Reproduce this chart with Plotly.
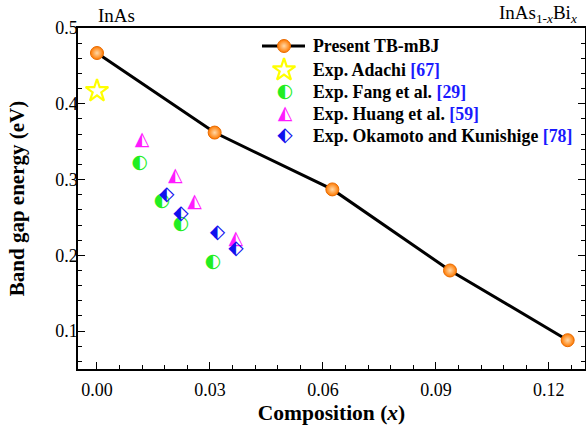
import plotly.graph_objects as go

# ---- data ----
tb_x = [0.0, 0.03125, 0.0625, 0.09375, 0.125]
tb_y = [0.467, 0.362, 0.287, 0.180, 0.088]

adachi_x = [0.0]
adachi_y = [0.417]

fang_x = [0.0114, 0.0173, 0.0223, 0.0308]
fang_y = [0.322, 0.271, 0.241, 0.191]

huang_x = [0.0120, 0.0208, 0.0259, 0.0369]
huang_y = [0.352, 0.304, 0.270, 0.221]

oka_x = [0.0185, 0.0223, 0.0320, 0.0369]
oka_y = [0.279, 0.255, 0.230, 0.209]

x_ticks = [0.00, 0.03, 0.06, 0.09, 0.12]
x_ticklabels = ["0.00", "0.03", "0.06", "0.09", "0.12"]
y_ticks = [0.1, 0.2, 0.3, 0.4, 0.5]
y_ticklabels = ["0.1", "0.2", "0.3", "0.4", "0.5"]

REF = "#1a1aff"
legend_labels = [
    "Present TB-mBJ",
    f"Exp. Adachi <span style='color:{REF}'>[67]</span>",
    f"Exp. Fang et al. <span style='color:{REF}'>[29]</span>",
    f"Exp. Huang et al. <span style='color:{REF}'>[59]</span>",
    f"Exp. Okamoto and Kunishige <span style='color:{REF}'>[78]</span>",
]

SERIF = "Liberation Serif"
GLYPH_FONT = "DejaVu Sans"
GREEN = "#22ee22"
MAGENTA = "#ff1aff"
BLUE = "#1010ee"
ORANGE_MARKER = dict(size=13, color="#ff7a00", line=dict(color="#e86a00", width=1),
                     gradient=dict(type="radial", color="#ffd8a8"))
STAR_MARKER = dict(symbol="star-open", size=17, color="#ffff00", line=dict(width=2.2, color="#ffff00"))

W, H = 586, 426
ML, MR, MT, MB = 78, 1, 28, 57

# legend key geometry (page pixels)
LEG_ROWS = [46, 70, 92, 114, 136]
LEG_KEY_X = 284
LEG_LINE = (262, 305)
LEG_TEXT_X = 311
LEG_FS = 17.8

fig = go.Figure()

# ---- data traces ----
fig.add_trace(go.Scatter(x=tb_x, y=tb_y, mode="lines+markers",
                         line=dict(color="black", width=3), marker=ORANGE_MARKER))
fig.add_trace(go.Scatter(x=adachi_x, y=adachi_y, mode="markers", marker=STAR_MARKER))

half_series = [
    (fang_x, fang_y, GREEN, "\u25D0", 19),
    (huang_x, huang_y, MAGENTA, "\u25ED", 19),
    (oka_x, oka_y, BLUE, "\u2B16", 20),
]
for xs, ys, col, glyph, fs in half_series:
    fig.add_trace(go.Scatter(
        x=xs, y=ys, mode="text", text=[glyph] * len(xs),
        textfont=dict(family=GLYPH_FONT, size=fs, color=col),
        textposition="middle center", hoverinfo="skip",
    ))

# ---- legend keys, drawn on a pixel-space overlay axis ----
fig.add_trace(go.Scatter(x=list(LEG_LINE), y=[LEG_ROWS[0]] * 2, mode="lines",
                         line=dict(color="black", width=3), xaxis="x2", yaxis="y2", hoverinfo="skip"))
fig.add_trace(go.Scatter(x=[LEG_KEY_X], y=[LEG_ROWS[0]], mode="markers", marker=ORANGE_MARKER,
                         xaxis="x2", yaxis="y2", hoverinfo="skip"))
fig.add_trace(go.Scatter(x=[LEG_KEY_X], y=[LEG_ROWS[1]], mode="markers", marker=STAR_MARKER,
                         xaxis="x2", yaxis="y2", hoverinfo="skip"))
for i, (_, _, col, glyph, fs) in enumerate(half_series):
    fig.add_trace(go.Scatter(x=[LEG_KEY_X + 1], y=[LEG_ROWS[i + 2]], mode="text", text=[glyph],
                             textfont=dict(family=GLYPH_FONT, size=fs, color=col),
                             textposition="middle center", xaxis="x2", yaxis="y2", hoverinfo="skip"))

legend_annots = []
for label, ry in zip(legend_labels, LEG_ROWS):
    legend_annots.append(dict(text=f"<b>{label}</b>", xref="x2", yref="y2", x=LEG_TEXT_X, y=ry,
                              xanchor="left", yanchor="middle", showarrow=False,
                              font=dict(family=SERIF, size=LEG_FS, color="black")))

fig.update_layout(
    template="none",
    width=W, height=H,
    margin=dict(l=ML, r=MR, t=MT, b=MB),
    paper_bgcolor="white", plot_bgcolor="white",
    font=dict(family=SERIF, size=18, color="black"),
    showlegend=False,
    xaxis=dict(range=[-0.00504, 0.1296], tickmode="array", tickvals=x_ticks, ticktext=x_ticklabels,
               ticks="inside", ticklen=7, tickwidth=1, tickcolor="black",
               showline=True, linecolor="black", linewidth=1.5, mirror=True,
               showgrid=False, zeroline=False, ticklabelstandoff=4,
               minor=dict(dtick=0.006, tick0=0, ticks="inside", ticklen=4, tickcolor="black", tickwidth=1),
               title=dict(text="<b>Composition (<i>x</i>)</b>",
                          font=dict(family=SERIF, size=21.5), standoff=6),
               tickfont=dict(family=SERIF, size=18)),
    yaxis=dict(range=[0.05, 0.5], tickmode="array", tickvals=y_ticks, ticktext=y_ticklabels,
               ticks="inside", ticklen=7, tickwidth=1, tickcolor="black",
               showline=True, linecolor="black", linewidth=1.5, mirror="ticks",
               showgrid=False, zeroline=False, ticklabelstandoff=-5,
               minor=dict(dtick=0.02, tick0=0, ticks="inside", ticklen=4, tickcolor="black", tickwidth=1),
               title=dict(text="<b>Band gap energy (eV)</b>",
                          font=dict(family=SERIF, size=21), standoff=25),
               tickfont=dict(family=SERIF, size=18)),
    xaxis2=dict(range=[ML, W - MR], overlaying="x", anchor="y2", visible=False, fixedrange=True),
    yaxis2=dict(range=[H - MB, MT], overlaying="y", anchor="x2", visible=False, fixedrange=True),
    annotations=[
        dict(text="InAs", xref="paper", yref="paper", x=0.035, y=1.0, xanchor="left", yanchor="bottom",
             showarrow=False, font=dict(family=SERIF, size=19)),
        dict(text="InAs<sub>1-<i>x</i></sub>Bi<sub><i>x</i></sub>", xref="paper", yref="paper",
             x=1.0, y=1.0, xanchor="right", yanchor="bottom", xshift=-6, showarrow=False,
             font=dict(family=SERIF, size=19)),
    ] + legend_annots,
)

fig.write_html("out.html")
